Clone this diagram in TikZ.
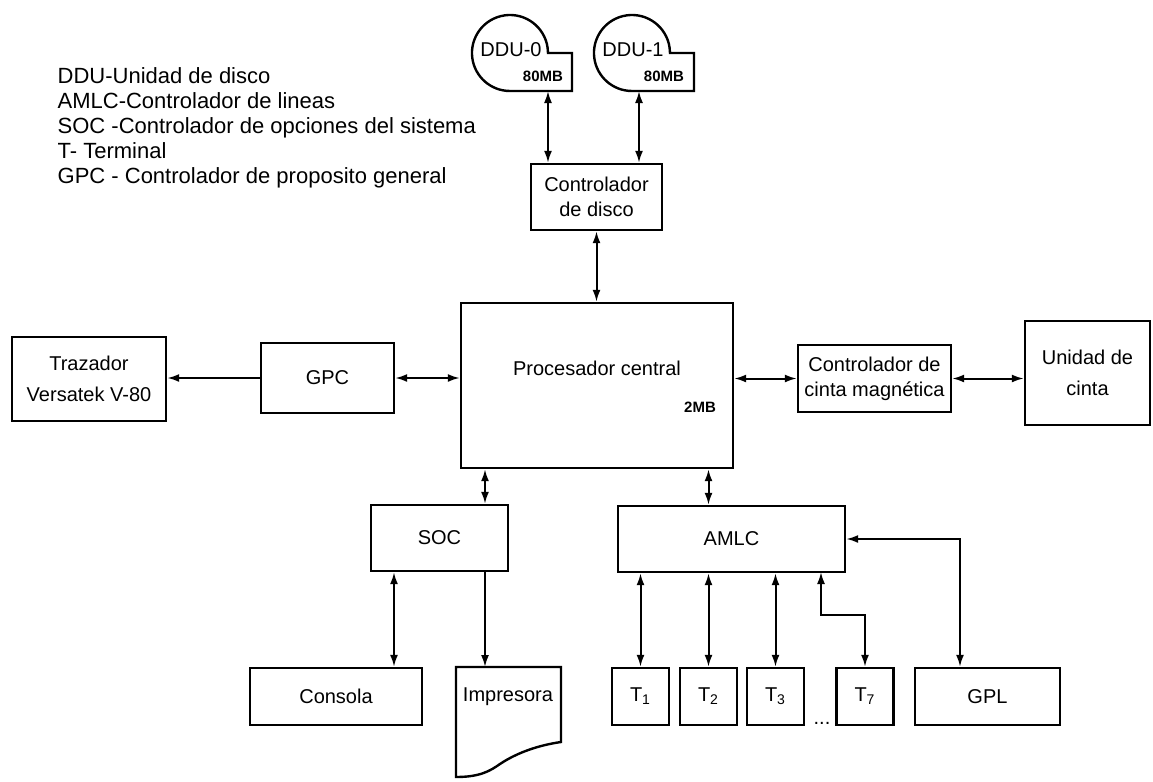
\documentclass[tikz,border=0pt]{standalone}
\usepackage{fontspec}
\setmainfont{Liberation Sans}
\usetikzlibrary{arrows.meta}

\tikzset{
  box/.style={draw, line width=1.2pt, inner sep=2pt, align=center},
  small/.style={font=\fontsize{7.5}{8}\selectfont\bfseries},
}

\begin{document}
\begin{tikzpicture}[x=0.5pt, y=-0.5pt, line width=1pt,
    >={Latex[length=6pt,width=4pt]},
    font=\fontsize{10}{12.5}\selectfont]
    \useasboundingbox (0,0) rectangle (1153,782);

    % legend
    \node[anchor=west, align=left, font=\fontsize{11}{12.5}\selectfont] (legend) at (50,128)
        {DDU-Unidad de disco\\AMLC-Controlador de lineas\\SOC -Controlador de opciones del sistema\\T- Terminal\\GPC - Controlador de proposito general};

    % disk units
    \foreach \dx in {472, 594} {
        \draw[line width=1.2pt, shift={(\dx,0)}] (100,53) -- (76,53) -- (75.6,47.7)
            arc[start angle=-8, end angle=-270, radius=38] -- (100,91) -- cycle;
    }
    \node (ddu0) at (511,50) {DDU-0};
    \node[small] (mb0) at (543,76) {80MB};
    \node (ddu1) at (633,50) {DDU-1};
    \node[small] (mb1) at (664,76) {80MB};
    \coordinate (d0) at (548,91);
    \coordinate (d1) at (639,91);

    \node[box, minimum width=65.5pt, minimum height=33pt] (disco) at (596.5,197) {Controlador\\de disco};
    \draw[<->] (d0) -- (d0 |- disco.north);
    \draw[<->] (d1) -- (d1 |- disco.north);

    % central processor
    \node[box, minimum width=136pt, minimum height=82.5pt] (cpu) at (597,385.5) {};
    \node (cpuname) at (597,368) {Procesador central};
    \node[small] (cpumem) at (700,407) {2MB};
    \draw[<->] (disco.south) -- (disco.south |- cpu.north);

    % left side
    \node[box, minimum width=66.5pt, minimum height=35pt] (gpc) at (327.5,378) {GPC};
    \node[box, minimum width=77pt, minimum height=42pt] (traz) at (89,379) {Trazador\\[3pt]Versatek V-80};
    \draw[->] (gpc.west) -- (gpc.west -| traz.east);
    \draw[<->] (gpc.east) -- (gpc.east -| cpu.west);

    % right side
    \node[box, minimum width=76.5pt, minimum height=33.5pt] (ccinta) at (874.5,378.5) {Controlador de\\cinta magnética};
    \node[box, minimum width=62.5pt, minimum height=52pt] (ucinta) at (1087.5,373) {Unidad de\\[3pt]cinta};
    \draw[<->] (ccinta.west) -- (ccinta.west -| cpu.east);
    \draw[<->] (ccinta.east) -- (ccinta.east -| ucinta.west);

    % system option controller
    \node[box, minimum width=68.5pt, minimum height=33pt] (soc) at (439.5,538) {SOC};
    \node[box, minimum width=86pt, minimum height=28.5pt] (consola) at (336,696.5) {Consola};
    \node (imp) at (508,697) {Impresora};
    \draw[line width=1.2pt] (456,667) -- (561,667) -- (561,742)
        .. controls (540,745) and (518,752) .. (500,764)
        .. controls (490,771) and (480,777) .. (456,777) -- cycle;
    \coordinate (socl) at ([xshift=-22.75pt]soc.south);
    \coordinate (socr) at ([xshift=22.75pt]soc.south);
    \coordinate (imptop) at (485,667);
    \draw[<->] (socr |- cpu.south) -- (socr |- soc.north);
    \draw[<->] (socl) -- (socl |- consola.north);
    \draw[->] (socr) -- (imptop);

    % line controller and terminals
    \node[box, minimum width=113.5pt, minimum height=33pt] (amlc) at (731.5,539) {AMLC};
    \foreach \i/\x in {1/640.5, 2/708.5, 3/775.5} {
        \node[box, minimum size=28.5pt] (t\i) at (\x,696.5) {T\textsubscript{\i}};
        \draw[<->] (t\i.north) -- (t\i |- amlc.south);
    }
    \draw[<->] (t2 |- cpu.south) -- (t2 |- amlc.north);
    \node[box, minimum size=28.5pt] (t7) at (865,696.5) {T\textsubscript{7}};
    \node[anchor=base] (dots) at (822,724) {...};
    \coordinate (t7up) at (821,572);
    \draw[<->] (t7up) -- ++(0,43) -| (t7.north);

    \node[box, minimum width=72.5pt, minimum height=28.5pt] (gpl) at (987.5,696.5) {GPL};
    \coordinate (gplin) at ([xshift=-13.75pt]gpl.north);
    \draw[<->] (amlc.east) -| (gplin);
\end{tikzpicture}
\end{document}
